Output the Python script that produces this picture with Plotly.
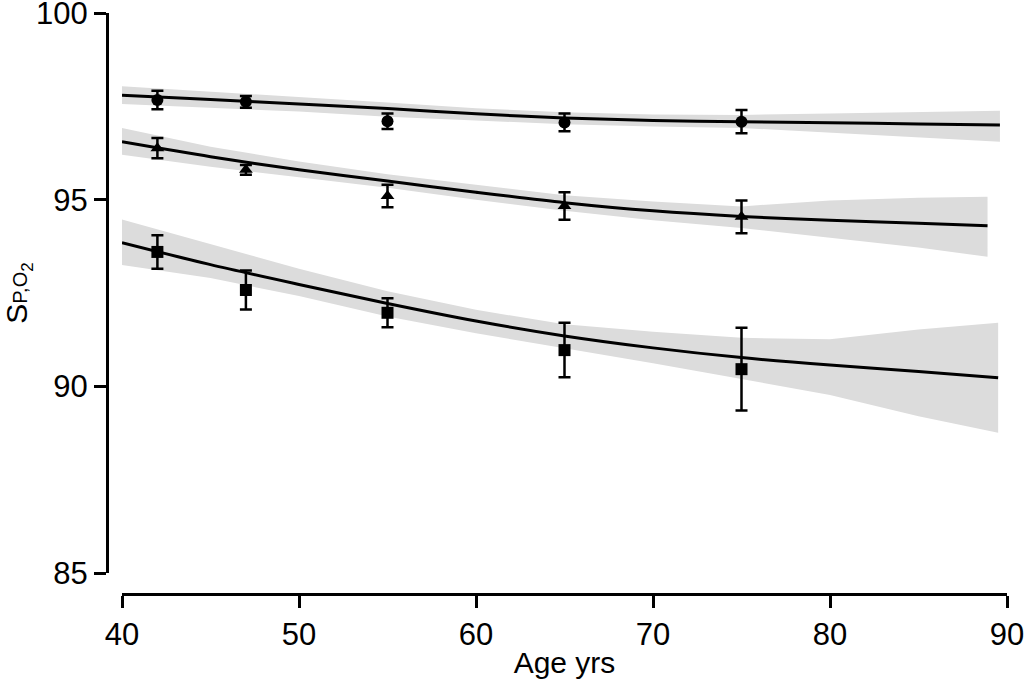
import plotly.graph_objects as go

# Measured group means (age groups) and error bars
ages = [42, 47, 55, 65, 75]
circle_y = [97.67, 97.62, 97.10, 97.07, 97.09]
circle_err = [0.25, 0.16, 0.21, 0.24, 0.31]
triangle_y = [96.38, 95.80, 95.10, 94.83, 94.54]
triangle_err = [0.27, 0.13, 0.30, 0.37, 0.44]
square_y = [93.60, 92.58, 91.97, 90.97, 90.46]
square_err = [0.45, 0.52, 0.39, 0.73, 1.11]

# Fitted curves with confidence bands
fit_age_top = [40, 45, 50, 55, 60, 65, 70, 75, 80, 85, 89.6]
fit_top = [97.80, 97.68, 97.56, 97.44, 97.30, 97.19, 97.12, 97.09, 97.06, 97.03, 97.00]
fit_top_hi = [98.04, 97.90, 97.76, 97.60, 97.45, 97.34, 97.28, 97.27, 97.31, 97.35, 97.38]
fit_top_lo = [97.56, 97.46, 97.36, 97.22, 97.12, 97.02, 96.96, 96.92, 96.80, 96.67, 96.55]

fit_age_mid = [40, 45, 50, 55, 60, 65, 70, 75, 80, 85, 88.9]
fit_mid = [96.55, 96.15, 95.80, 95.50, 95.20, 94.92, 94.70, 94.55, 94.45, 94.37, 94.30]
fit_mid_hi = [96.92, 96.42, 96.02, 95.68, 95.40, 95.12, 94.95, 94.82, 94.98, 95.05, 95.08]
fit_mid_lo = [96.20, 95.88, 95.60, 95.32, 95.00, 94.70, 94.45, 94.24, 93.98, 93.72, 93.47]

fit_age_bot = [40, 45, 50, 55, 60, 65, 70, 75, 80, 85, 89.5]
fit_bot = [93.85, 93.26, 92.73, 92.22, 91.75, 91.35, 91.03, 90.77, 90.57, 90.40, 90.23]
fit_bot_hi = [94.47, 93.80, 93.15, 92.55, 92.05, 91.66, 91.46, 91.30, 91.26, 91.52, 91.70]
fit_bot_lo = [93.25, 92.90, 92.42, 91.87, 91.42, 91.02, 90.62, 90.20, 89.77, 89.20, 88.76]

x_ticks = [40, 50, 60, 70, 80, 90]
y_ticks = [85, 90, 95, 100]

BAND = "#dcdcdc"
FONT = "Liberation Sans, Arial, sans-serif"

fig = go.Figure()

for xs, hi, lo in [(fit_age_top, fit_top_hi, fit_top_lo),
                   (fit_age_mid, fit_mid_hi, fit_mid_lo),
                   (fit_age_bot, fit_bot_hi, fit_bot_lo)]:
    fig.add_trace(go.Scatter(x=xs + xs[::-1], y=hi + lo[::-1], fill="toself",
                             fillcolor=BAND, line=dict(width=0), mode="lines",
                             hoverinfo="skip", showlegend=False))

for xs, ys in [(fit_age_top, fit_top), (fit_age_mid, fit_mid), (fit_age_bot, fit_bot)]:
    fig.add_trace(go.Scatter(x=xs, y=ys, mode="lines",
                             line=dict(color="black", width=3, shape="spline", smoothing=0.8),
                             showlegend=False))

for ys, err, sym in [(circle_y, circle_err, "circle"),
                     (triangle_y, triangle_err, "triangle-up"),
                     (square_y, square_err, "square")]:
    fig.add_trace(go.Scatter(x=ages, y=ys, mode="markers",
                             marker=dict(symbol=sym, color="black", size=12),
                             error_y=dict(type="data", array=err, color="black", thickness=2.5, width=6),
                             showlegend=False))

W, H = 1024, 680
ml, mr, mt, mb = 107, 17, 13, 86
pw, ph = W - ml - mr, H - mt - mb

fig.update_layout(
    width=W, height=H,
    margin=dict(l=ml, r=mr, t=mt, b=mb),
    paper_bgcolor="white", plot_bgcolor="white",
    font=dict(family=FONT, color="black", size=31),
    xaxis=dict(range=[40, 90], domain=[15 / pw, 1], tickvals=x_ticks,
               showline=True, linecolor="black", linewidth=3,
               ticks="outside", ticklen=12, tickwidth=3, tickcolor="black",
               showgrid=False, zeroline=False, anchor="free", position=0,
               automargin=False, ticklabeloverflow="allow",
               tickfont=dict(size=31),
               title=dict(text="Age yrs", font=dict(size=30), standoff=0)),
    yaxis=dict(range=[85, 100], domain=[21 / ph, 1], tickvals=y_ticks,
               showline=True, linecolor="black", linewidth=3,
               ticks="outside", ticklen=12, tickwidth=3, tickcolor="black",
               showgrid=False, zeroline=False, anchor="free", position=0,
               automargin=False, ticklabeloverflow="allow",
               tickfont=dict(size=31),
               title=dict(text="S<span style='font-size:20px'>P,O</span><sub><span style='font-size:17px'>2</span></sub>",
                          font=dict(size=30), standoff=16)),
)

fig.write_html("out.html",
               config={"displayModeBar": False},
               post_script="document.body.style.margin='0px';document.body.style.overflow='hidden';")
